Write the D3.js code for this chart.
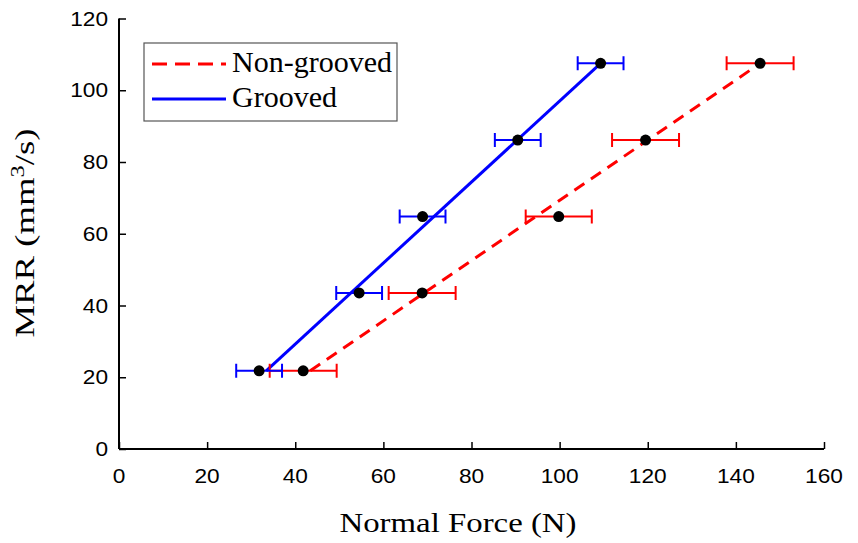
<!DOCTYPE html>
<html>
<head>
<meta charset="utf-8">
<script src="https://cdn.jsdelivr.net/npm/d3@7"></script>
<style>
  body { margin: 0; background: #fff; }
  svg { display: block; }
</style>
</head>
<body>
<div id="chart"></div>
<script>
// values
const mrr = [21.8, 43.5, 64.8, 86.1, 107.5];
const force_grooved = [31.8, 54.5, 68.9, 90.5, 109.3];
const err_grooved = [5.2, 5.2, 5.2, 5.2, 5.2];
const force_nongrooved = [41.8, 68.8, 99.8, 119.5, 145.5];
const err_nongrooved = [7.6, 7.6, 7.5, 7.6, 7.6];
// fitted trend lines (end points)
const fit_y = [21.8, 107.5];
const fit_grooved_x = [33.4, 109.3];
const fit_nongrooved_x = [43.4, 145.5];
const x_ticks = [0, 20, 40, 60, 80, 100, 120, 140, 160];
const y_ticks = [0, 20, 40, 60, 80, 100, 120];

const W = 858, H = 543;
const MARGIN = { LEFT: 119, RIGHT: 34, TOP: 18.5, BOTTOM: 94 };

const svg = d3.select("#chart").append("svg")
    .attr("width", W)
    .attr("height", H);

const x = d3.scaleLinear().domain([0, 160]).range([MARGIN.LEFT, W - MARGIN.RIGHT]);
const y = d3.scaleLinear().domain([0, 120]).range([H - MARGIN.BOTTOM, MARGIN.TOP]);

// axes, ticks pointing inward
const xAxis = svg.append("g")
    .attr("transform", `translate(0,${y(0)})`)
    .call(d3.axisTop(x).tickValues(x_ticks).tickSize(7).tickFormat(""));
const yAxis = svg.append("g")
    .attr("transform", `translate(${x(0)},0)`)
    .call(d3.axisRight(y).tickValues(y_ticks).tickSize(7).tickFormat(""));
[xAxis, yAxis].forEach(a => {
    a.select(".domain").attr("stroke", "#000").attr("stroke-width", 2);
    a.selectAll(".tick line").attr("stroke", "#000").attr("stroke-width", 1.5);
});
xAxis.select(".domain").attr("d", `M${x(0)},0H${x(160)}`);
yAxis.select(".domain").attr("d", `M0,${y(0)}V${y(120)}`);

// tick labels (the figure's digits are a bit wide)
svg.append("g").selectAll("text")
    .data(x_ticks).enter().append("text")
    .attr("x", d => x(d))
    .attr("y", y(0) + 34)
    .attr("text-anchor", "middle")
    .attr("font-family", "Liberation Sans, Arial, sans-serif")
    .attr("font-size", 20)
    .attr("textLength", d => String(d).length * 12.6)
    .attr("lengthAdjust", "spacingAndGlyphs")
    .text(d => d);

svg.append("g").selectAll("text")
    .data(y_ticks).enter().append("text")
    .attr("x", x(0) - 11)
    .attr("y", d => y(d) + 7)
    .attr("text-anchor", "end")
    .attr("font-family", "Liberation Sans, Arial, sans-serif")
    .attr("font-size", 20)
    .attr("textLength", d => String(d).length * 12.6)
    .attr("lengthAdjust", "spacingAndGlyphs")
    .text(d => d);

// axis titles
svg.append("text")
    .attr("x", 458)
    .attr("y", 532)
    .attr("text-anchor", "middle")
    .attr("font-family", "Liberation Serif, serif")
    .attr("font-size", 27)
    .attr("textLength", 237)
    .attr("lengthAdjust", "spacingAndGlyphs")
    .text("Normal Force (N)");

const ylab = svg.append("text")
    .attr("transform", "translate(34,233) rotate(-90) scale(1.36,1)")
    .attr("text-anchor", "middle")
    .attr("font-family", "Liberation Serif, serif")
    .attr("font-size", 27);
ylab.append("tspan").text("MRR (mm");
ylab.append("tspan").attr("dy", -10).attr("font-size", 18).text("3");
ylab.append("tspan").attr("dy", 10).text("/s)");

// fitted lines
const line = d3.line().x(d => x(d[0])).y(d => y(d[1]));
svg.append("path")
    .datum(fit_nongrooved_x.map((v, i) => [v, fit_y[i]]))
    .attr("d", line)
    .attr("fill", "none")
    .attr("stroke", "#ff0000")
    .attr("stroke-width", 3)
    .attr("stroke-dasharray", "12,8");
svg.append("path")
    .datum(fit_grooved_x.map((v, i) => [v, fit_y[i]]))
    .attr("d", line)
    .attr("fill", "none")
    .attr("stroke", "#0000ff")
    .attr("stroke-width", 3);

// error bars
function errorBars(xs, errs, color) {
    const g = svg.append("g").attr("stroke", color).attr("stroke-width", 2).attr("fill", "none");
    const data = xs.map((v, i) => ({ x: v, y: mrr[i], e: errs[i] }));
    g.selectAll("path").data(data).enter().append("path")
        .attr("d", d => {
            const x0 = x(d.x - d.e), x1 = x(d.x + d.e), yy = y(d.y);
            return `M${x0},${yy}H${x1}M${x0},${yy - 7}V${yy + 7}M${x1},${yy - 7}V${yy + 7}`;
        });
}
errorBars(force_nongrooved, err_nongrooved, "#ff0000");
errorBars(force_grooved, err_grooved, "#0000ff");

// data points
[force_grooved, force_nongrooved].forEach(xs => {
    svg.append("g").selectAll("circle")
        .data(xs).enter().append("circle")
        .attr("cx", d => x(d))
        .attr("cy", (d, i) => y(mrr[i]))
        .attr("r", 5.5)
        .attr("fill", "#000");
});

// legend
const leg = svg.append("g");
leg.append("rect")
    .attr("x", 144).attr("y", 43)
    .attr("width", 253).attr("height", 78)
    .attr("fill", "#fff")
    .attr("stroke", "#555")
    .attr("stroke-width", 1.2);
const legItems = [
    { name: "Non-grooved", color: "#ff0000", dash: "15,8" },
    { name: "Grooved", color: "#0000ff", dash: null }
];
legItems.forEach((d, i) => {
    const yy = 64 + i * 35;
    leg.append("line")
        .attr("x1", 152).attr("x2", 226)
        .attr("y1", yy).attr("y2", yy)
        .attr("stroke", d.color)
        .attr("stroke-width", 3)
        .attr("stroke-dasharray", d.dash);
    leg.append("text")
        .attr("x", 232)
        .attr("y", yy + 8)
        .attr("font-family", "Liberation Serif, serif")
        .attr("font-size", 30)
        .text(d.name);
});
</script>
</body>
</html>
